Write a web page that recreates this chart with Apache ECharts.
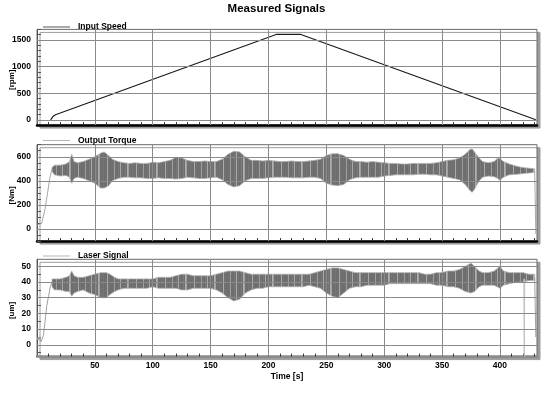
<!DOCTYPE html>
<html><head><meta charset="utf-8">
<script src="https://cdn.jsdelivr.net/npm/echarts@6/dist/echarts.min.js"></script>
<style>html,body{margin:0;padding:0;background:#fff}#c{width:553px;height:396px}</style>
</head><body><div id="c"></div>
<script>
// ---------- data ----------
const titleText = 'Measured Signals';
const seriesNames = ['Input Speed', 'Output Torque', 'Laser Signal'];
const unitNames = ['[rpm]', '[Nm]', '[um]'];
const xName = 'Time [s]';

const xTickValues = [10,20,30,40,50,60,70,80,90,100,110,120,130,140,150,160,170,180,190,200,210,220,230,240,250,260,270,280,290,300,310,320,330,340,350,360,370,380,390,400,410,420,430];
const xLabelValues = [50,100,150,200,250,300,350,400];

const speedTickValues = [0,100,200,300,400,500,600,700,800,900,1000,1100,1200,1300,1400,1500,1600,1700];
const speedLabelValues = [0,500,1000,1500];
const torqueTickValues = [-100,-50,0,50,100,150,200,250,300,350,400,450,500,550,600,650,700];
const torqueLabelValues = [0,200,400,600];
const laserTickValues = [-5,0,5,10,15,20,25,30,35,40,45,50];
const laserLabelValues = [0,10,20,30,40,50];

// Input speed trace
const speedT = [11.7, 12.5, 14, 16, 17.4, 206.6, 228, 431];
const speedV = [0, 30, 65, 95, 113, 1605, 1605, 0];

// Output torque: start ramp, end drop, and noise envelope
const torqueStartT = [0, 1, 2, 4, 5, 7, 9, 11, 13];
const torqueStartV = [30, 40, 42, 45, 55, 170, 290, 420, 500];
const torqueEndT = [430, 431];
const torqueEndV = [480, -40];
const torqueBandT  = [13,15,20,25,28,30,32,35,40,45,50,55,58,62,65,70,75,80,85,90,95,100,105,110,115,120,125,130,135,140,145,150,155,160,165,170,175,180,185,190,195,200,205,210,215,220,225,230,235,240,245,250,255,260,265,270,275,280,285,290,295,300,305,310,315,320,325,330,335,340,345,350,355,360,365,370,374,376,378,382,385,390,395,398,400,403,408,415,420,425,430];
const torqueBandHi = [510,530,530,540,560,620,560,550,560,580,600,630,640,610,580,560,550,545,550,545,545,555,550,560,570,595,590,570,560,560,565,560,560,580,620,645,640,600,570,570,565,570,565,560,560,565,560,560,565,570,580,610,625,625,610,580,560,560,555,560,555,550,545,545,540,540,545,545,545,545,550,560,570,575,590,620,660,665,640,590,560,550,560,590,585,560,540,520,510,505,500];
const torqueBandLo = [480,450,440,445,430,380,420,430,420,400,380,340,340,360,400,420,430,430,425,425,420,420,425,420,420,415,420,430,425,420,420,425,430,410,370,350,360,400,420,420,420,425,430,430,430,425,425,425,430,430,420,380,365,360,370,410,425,430,430,430,430,440,445,450,450,450,450,455,455,450,450,440,430,420,410,370,320,305,330,400,430,440,435,420,405,430,450,455,460,465,470];

// Laser signal: start ramp, end drops, and noise envelope
const laserStartT = [0, 1, 1.8, 2.5, 3.5, 4.5, 5.5, 7, 8.5, 10, 11.5, 13];
const laserStartV = [3, 5, 3, 5, 2, 2.5, 6, 15, 25, 31, 37, 40];
const laserDropT = [420.6, 421, 421.4];
const laserDropV = [42, -7.5, 42];
const laserEndT = [430, 431, 431.5];
const laserEndV = [43, 5, 6];
const laserBandT  = [13,15,20,25,28,30,32,35,40,45,50,55,60,63,67,70,75,80,85,90,95,100,105,110,115,120,125,130,135,140,145,150,155,160,165,170,175,180,185,190,195,200,205,210,215,220,225,230,235,240,245,250,255,260,265,270,275,280,285,290,295,300,305,310,315,320,325,330,335,340,345,350,355,360,365,370,375,378,382,385,390,395,400,403,408,415,420,425,430];
const laserBandHi = [42,42,42,43,44,47,44,43,43,44,45,46,46,45,43,42,42,42,42,42,42,42,43,43,43,44,45,45,44,44,44,44,45,46,47,47,47,46,45,45,45,45,45,45,45,45,45,45,45,46,47,48,49,49,48,47,46,46,46,46,46,46,46,46,46,46,46,46,45,45,46,46,47,47,48,50,52,50,47,46,46,47,50,47,46,46,46,45,45];
const laserBandLo = [37,35,35,34,34,31,33,34,35,33,32,30,30,32,34,35,36,36,36,36,36,37,36,36,36,36,35,35,36,36,36,36,35,33,30,28,29,33,35,36,36,37,37,37,37,37,37,37,38,37,36,33,31,30,33,36,37,37,38,38,38,38,39,39,39,39,39,39,39,39,38,38,37,37,36,34,33,34,37,38,38,38,36,38,39,40,40,41,41];

// ---------- chart ----------
const FONT = "'Liberation Sans', Arial, sans-serif";
const zip = (a, b) => a.map((v, i) => [v, b[i]]);

// striped fill imitating the dense oscillation
const pc = document.createElement('canvas');
const stripes = ['#707070','#6c6c6c','#787878','#707070','#a8a8a8','#6e6e6e','#747474','#6c6c6c','#707070','#7a7a7a','#6e6e6e','#b0b0b0','#a0a0a0','#6e6e6e','#727272','#6c6c6c','#767676','#6e6e6e','#707070','#6e6e6e','#aaaaaa','#6e6e6e','#747474','#6c6c6c','#707070','#6e6e6e','#727272','#9c9c9c','#6e6e6e'];
pc.width = stripes.length; pc.height = 1;
const pctx = pc.getContext('2d');
stripes.forEach((c, i) => { pctx.fillStyle = c; pctx.fillRect(i, 0, 1, 1); });
const bandFill = { type: 'pattern', image: pc, repeat: 'repeat' };

const grids = [
  { left: 37, right: 16, top: 29.4, height: 95.7 },
  { left: 37, right: 16, top: 144.7, height: 96.4 },
  { left: 37, right: 16, top: 259.3, height: 97.3 }
].map(g => Object.assign(g, {
  show: true, containLabel: false, outerBoundsMode: 'none',
  backgroundColor: '#fff', borderColor: '#6a6a6a', borderWidth: 1,
  shadowColor: '#9c9c9c', shadowBlur: 0, shadowOffsetX: 3, shadowOffsetY: 3
}));

const plain = v => String(v);

function xAxis(g, showLabels, lineColor) {
  return {
    gridIndex: g, type: 'value', min: 0, max: 432, interval: 50,
    name: showLabels ? xName : '', nameLocation: 'middle', nameGap: 16, nameMoveOverlap: false,
    nameTextStyle: { fontFamily: FONT, fontWeight: 'bold', fontSize: 8.5, color: '#000' },
    axisLine: { show: true, onZero: false, lineStyle: { color: lineColor, width: 2.5 } },
    axisTick: { show: true, inside: true, length: 3, customValues: xTickValues, lineStyle: { color: '#333' } },
    axisLabel: { show: showLabels, customValues: xLabelValues, formatter: plain, margin: 5, fontFamily: FONT, fontWeight: 'bold', fontSize: 8.5, color: '#000' },
    splitLine: { show: false }
  };
}
function yAxis(g, min, max, ticks, labels, name) {
  return {
    gridIndex: g, type: 'value', min: min, max: max, name: name,
    nameLocation: 'middle', nameGap: 21, nameRotate: 90, nameMoveOverlap: false,
    nameTextStyle: { fontFamily: FONT, fontWeight: 'bold', fontSize: 8, color: '#000', padding: [0, 5, 0, 0] },
    axisLine: { show: true, onZero: false, lineStyle: { color: '#555', width: 1 } },
    axisTick: { show: true, inside: true, length: 4, customValues: ticks, lineStyle: { color: '#555' } },
    axisLabel: { customValues: labels, formatter: plain, margin: 6, fontFamily: FONT, fontWeight: 'bold', fontSize: 8.5, color: '#000' },
    splitLine: { show: false }
  };
}
function gridLines(g, yValues) {
  return {
    type: 'line', xAxisIndex: g, yAxisIndex: g, data: [], z: 1, silent: true,
    markLine: {
      silent: true, symbol: ['none', 'none'], label: { show: false }, animation: false,
      lineStyle: { color: '#8a8a8a', width: 1, type: 'solid' },
      emphasis: { disabled: true },
      data: yValues.map(v => ({ yAxis: v })).concat(xLabelValues.map(v => ({ xAxis: v })))
    }
  };
}
function band(g, t, hi, lo) {
  return {
    type: 'custom', xAxisIndex: g, yAxisIndex: g, z: 3, silent: true,
    data: [[t[0], lo[0]]],
    renderItem: function (params, api) {
      const pts = [];
      for (let i = 0; i < t.length; i++) pts.push(api.coord([t[i], hi[i]]));
      for (let i = t.length - 1; i >= 0; i--) pts.push(api.coord([t[i], lo[i]]));
      return { type: 'polygon', shape: { points: pts }, style: { fill: bandFill, stroke: '#b0b0b0', lineWidth: 0.8 } };
    }
  };
}
function trace(g, name, data, color, width) {
  return {
    type: 'line', name: name, xAxisIndex: g, yAxisIndex: g, data: data, z: 4,
    showSymbol: false, symbol: 'none', silent: true,
    lineStyle: { color: color, width: width }, itemStyle: { color: color }
  };
}
function legend(name, top, color) {
  return {
    data: [{ name: name, itemStyle: { color: color } }], left: 38, top: top,
    icon: 'rect', itemWidth: 27, itemHeight: 1, selectedMode: false,
    textStyle: { fontFamily: FONT, fontWeight: 'bold', fontSize: 8.5, color: '#000', padding: [0, 0, 0, 3] }
  };
}

const chart = echarts.init(document.getElementById('c'), null, { renderer: 'canvas' });
chart.setOption({
  animation: false,
  backgroundColor: '#fff',
  title: { text: titleText, left: 'center', top: -2, textStyle: { fontFamily: FONT, fontWeight: 'bold', fontSize: 11.5, color: '#000' } },
  legend: [legend(seriesNames[0], 17.5, '#555'), legend(seriesNames[1], 131, '#b5b5b5'), legend(seriesNames[2], 246.5, '#b5b5b5')],
  grid: grids,
  xAxis: [xAxis(0, false, '#000'), xAxis(1, false, '#000'), xAxis(2, true, '#8a8a8a')],
  yAxis: [
    yAxis(0, -100, 1700, speedTickValues, speedLabelValues, unitNames[0]),
    yAxis(1, -100, 700, torqueTickValues, torqueLabelValues, unitNames[1]),
    yAxis(2, -7.5, 54.5, laserTickValues, laserLabelValues, unitNames[2])
  ],
  series: [
    gridLines(0, speedLabelValues),
    gridLines(1, torqueLabelValues),
    gridLines(2, laserLabelValues),
    trace(0, seriesNames[0], zip(speedT, speedV), '#1a1a1a', 1.2),
    band(1, torqueBandT, torqueBandHi, torqueBandLo),
    trace(1, seriesNames[1], zip(torqueStartT, torqueStartV), '#a8a8a8', 1),
    trace(1, seriesNames[1], zip(torqueEndT, torqueEndV), '#a8a8a8', 1),
    band(2, laserBandT, laserBandHi, laserBandLo),
    trace(2, seriesNames[2], zip(laserStartT, laserStartV), '#a0a0a0', 1),
    trace(2, seriesNames[2], zip(laserDropT, laserDropV), '#c0c0c0', 1),
    trace(2, seriesNames[2], zip(laserEndT, laserEndV), '#a0a0a0', 1)
  ]
});
</script>
</body></html>
